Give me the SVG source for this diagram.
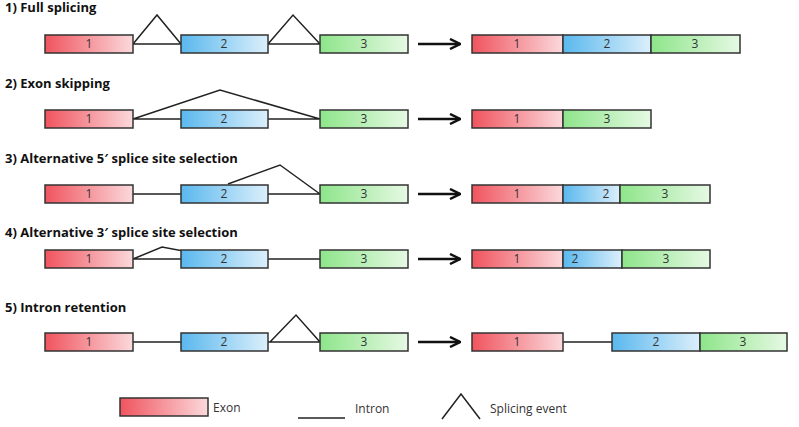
<svg xmlns="http://www.w3.org/2000/svg" width="799" height="427" viewBox="0 0 799 427">
<defs>
<linearGradient id="r" x1="0" x2="1"><stop offset="0" stop-color="#f0545e"/><stop offset="1" stop-color="#fbd9dc"/></linearGradient>
<linearGradient id="b" x1="0" x2="1"><stop offset="0" stop-color="#5ab8ee"/><stop offset="1" stop-color="#dceffb"/></linearGradient>
<linearGradient id="g" x1="0" x2="1"><stop offset="0" stop-color="#8ee58a"/><stop offset="1" stop-color="#e6f9e4"/></linearGradient>
<marker id="ah" viewBox="0 0 10 10" refX="9" refY="5" markerWidth="5" markerHeight="5" orient="auto"><path d="M1,1 L9,5 L1,9" fill="none" stroke="#111" stroke-width="2"/></marker>
</defs>
<style>
.t{font-family:"Open Sans","Liberation Sans",sans-serif;font-weight:bold;font-size:13px;fill:#111}
.n{font-family:"Open Sans","Liberation Sans",sans-serif;font-size:12px;fill:#333;text-anchor:middle}
.l{font-family:"Open Sans","Liberation Sans",sans-serif;font-size:12px;fill:#333}
rect{stroke:#333;stroke-width:1.5}
.ln{stroke:#222;stroke-width:1.5;fill:none}
.ar{stroke:#111;stroke-width:2.5;fill:none}
</style>
<text class="t" x="5" y="12">1) Full splicing</text>
<text class="t" x="5" y="88">2) Exon skipping</text>
<text class="t" x="5" y="163">3) Alternative 5′ splice site selection</text>
<text class="t" x="5" y="237">4) Alternative 3′ splice site selection</text>
<text class="t" x="5" y="312">5) Intron retention</text>
<g id="connectors">
<path class="ln" d="M133,44H181M268,44H320M133,44L157,15L181,44M268,44L293,15L320,44"/>
<path class="ln" d="M133,119H320M133,119L220,90L320,119"/>
<path class="ln" d="M133,194H320M228,184L280,165L320,194"/>
<path class="ln" d="M133,259H320M133,259L162,247L210,256"/>
<path class="ln" d="M133,342H181M268,342H320M270,342L296,315L320,342M563,342H612"/>
<path class="ar" d="M418,44H460" marker-end="url(#ah)"/>
<path class="ar" d="M418,119H460" marker-end="url(#ah)"/>
<path class="ar" d="M418,194H460" marker-end="url(#ah)"/>
<path class="ar" d="M418,259H460" marker-end="url(#ah)"/>
<path class="ar" d="M418,342H460" marker-end="url(#ah)"/>
</g>
<g id="row1">
<rect x="45" y="35" width="88" height="18" fill="url(#r)"/><text class="n" x="89" y="48">1</text>
<rect x="181" y="35" width="87" height="18" fill="url(#b)"/><text class="n" x="224" y="48">2</text>
<rect x="320" y="35" width="88" height="18" fill="url(#g)"/><text class="n" x="364" y="48">3</text>
<rect x="472" y="35" width="91" height="18" fill="url(#r)"/><text class="n" x="517" y="48">1</text>
<rect x="563" y="35" width="88" height="18" fill="url(#b)"/><text class="n" x="607" y="48">2</text>
<rect x="651" y="35" width="89" height="18" fill="url(#g)"/><text class="n" x="695" y="48">3</text>
</g>
<g id="row2">
<rect x="45" y="110" width="88" height="18" fill="url(#r)"/><text class="n" x="89" y="123">1</text>
<rect x="181" y="110" width="87" height="18" fill="url(#b)"/><text class="n" x="224" y="123">2</text>
<rect x="320" y="110" width="88" height="18" fill="url(#g)"/><text class="n" x="364" y="123">3</text>
<rect x="472" y="110" width="91" height="18" fill="url(#r)"/><text class="n" x="517" y="123">1</text>
<rect x="563" y="110" width="88" height="18" fill="url(#g)"/><text class="n" x="607" y="123">3</text>
</g>
<g id="row3">
<rect x="45" y="185" width="88" height="18" fill="url(#r)"/><text class="n" x="89" y="198">1</text>
<rect x="181" y="185" width="87" height="18" fill="url(#b)"/><text class="n" x="224" y="198">2</text>
<rect x="320" y="185" width="88" height="18" fill="url(#g)"/><text class="n" x="364" y="198">3</text>
<rect x="472" y="185" width="91" height="18" fill="url(#r)"/><text class="n" x="517" y="198">1</text>
<rect x="563" y="185" width="57" height="18" fill="url(#b)"/><text class="n" x="606" y="198">2</text>
<rect x="620" y="185" width="90" height="18" fill="url(#g)"/><text class="n" x="665" y="198">3</text>
</g>
<g id="row4">
<rect x="45" y="250" width="88" height="18" fill="url(#r)"/><text class="n" x="89" y="263">1</text>
<rect x="181" y="250" width="87" height="18" fill="url(#b)"/><text class="n" x="224" y="263">2</text>
<rect x="320" y="250" width="88" height="18" fill="url(#g)"/><text class="n" x="364" y="263">3</text>
<rect x="472" y="250" width="91" height="18" fill="url(#r)"/><text class="n" x="517" y="263">1</text>
<rect x="563" y="250" width="59" height="18" fill="url(#b)"/><text class="n" x="575" y="263">2</text>
<rect x="622" y="250" width="88" height="18" fill="url(#g)"/><text class="n" x="666" y="263">3</text>
</g>
<g id="row5">
<rect x="45" y="333" width="88" height="18" fill="url(#r)"/><text class="n" x="89" y="346">1</text>
<rect x="181" y="333" width="87" height="18" fill="url(#b)"/><text class="n" x="224" y="346">2</text>
<rect x="320" y="333" width="88" height="18" fill="url(#g)"/><text class="n" x="364" y="346">3</text>
<rect x="472" y="333" width="91" height="18" fill="url(#r)"/><text class="n" x="517" y="346">1</text>
<rect x="612" y="333" width="88" height="18" fill="url(#b)"/><text class="n" x="656" y="346">2</text>
<rect x="700" y="333" width="87" height="18" fill="url(#g)"/><text class="n" x="743" y="346">3</text>
</g>
<g id="legend">
<rect x="120" y="398" width="88" height="18" fill="url(#r)"/><text class="l" x="213" y="412">Exon</text>
<path class="ln" d="M298,418H345"/><text class="l" x="355" y="413">Intron</text>
<path class="ln" d="M442,419L461,394L480,419"/><text class="l" x="490" y="413">Splicing event</text>
</g>
</svg>
